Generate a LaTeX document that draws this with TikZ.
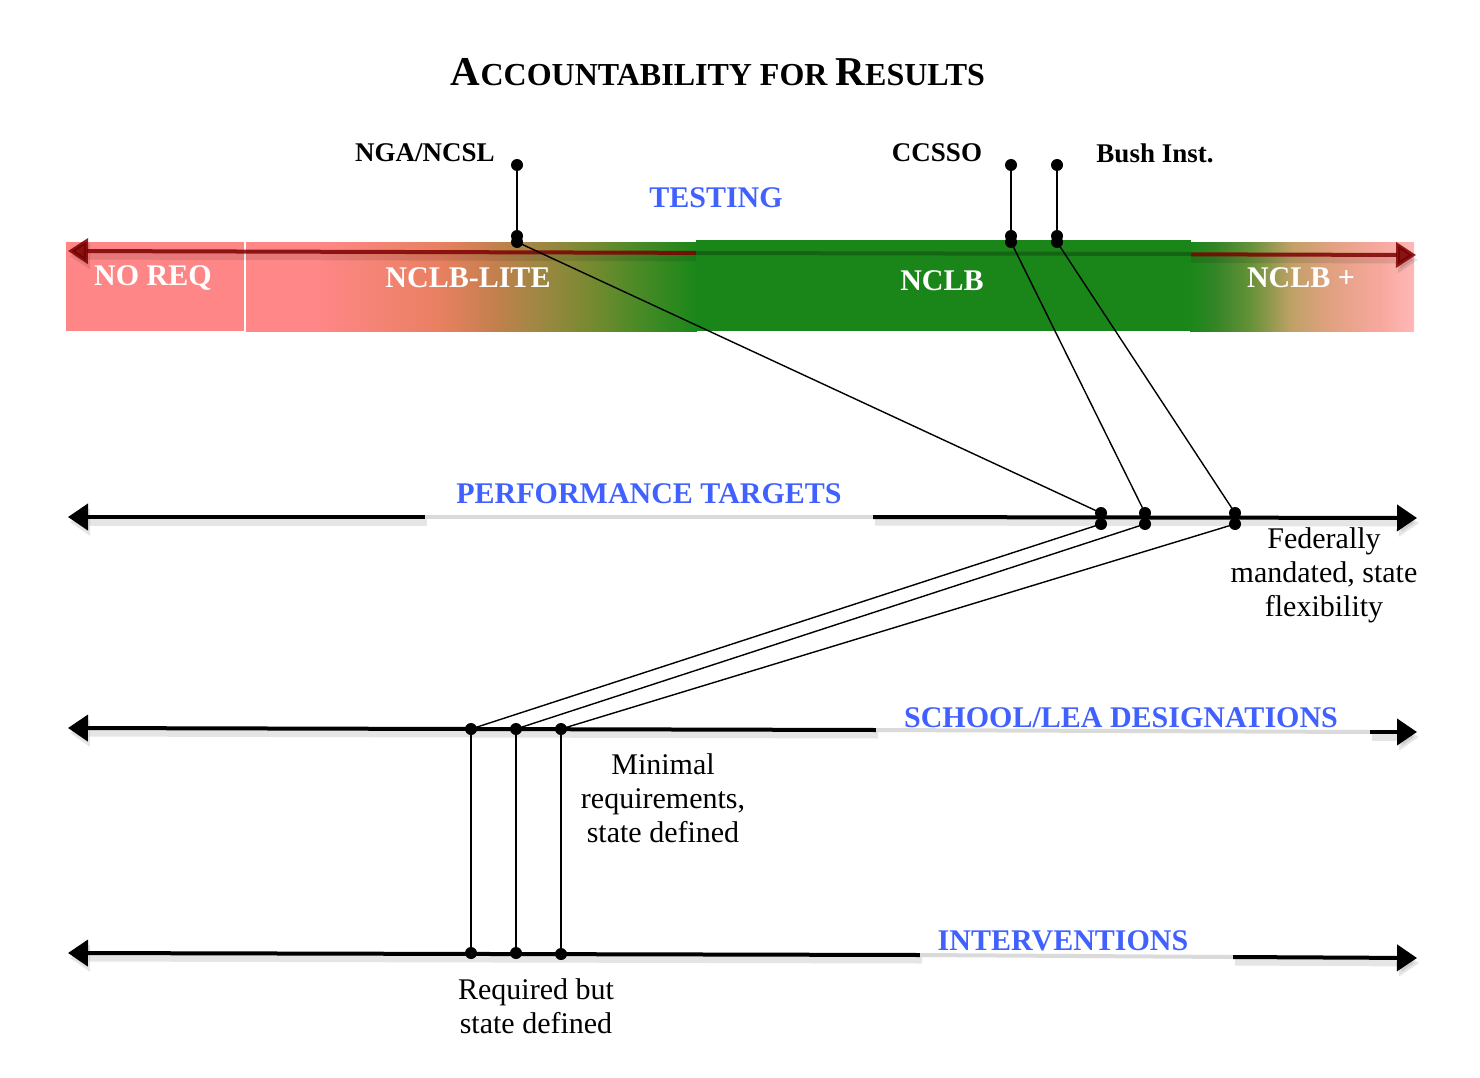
\documentclass[tikz,border=0pt]{standalone}
\usepackage{fontspec}
\setmainfont{Liberation Serif}
\usetikzlibrary{arrows.meta}
\definecolor{pinkA}{RGB}{255,134,134}
\definecolor{grn}{RGB}{26,134,26}
\definecolor{dkred}{RGB}{122,0,0}
\definecolor{lblue}{RGB}{64,96,255}
\definecolor{lgrey}{RGB}{218,218,218}
\pgfdeclarehorizontalshading{liteshade}{100bp}{rgb(0bp)=(1,0.53,0.53); rgb(25bp)=(1,0.53,0.53); rgb(33bp)=(1,0.53,0.53); rgb(46.5bp)=(0.91,0.50,0.38); rgb(52bp)=(0.78,0.50,0.31); rgb(57.5bp)=(0.62,0.53,0.26); rgb(63bp)=(0.47,0.54,0.19); rgb(68.5bp)=(0.29,0.54,0.15); rgb(75bp)=(0.10,0.53,0.10); rgb(100bp)=(0.10,0.53,0.10)}
\pgfdeclarehorizontalshading{plusshade}{100bp}{rgb(0bp)=(0.10,0.53,0.10); rgb(25bp)=(0.10,0.53,0.10); rgb(30.5bp)=(0.20,0.52,0.15); rgb(38.5bp)=(0.40,0.57,0.22); rgb(47.5bp)=(0.75,0.63,0.40); rgb(56bp)=(0.88,0.63,0.50); rgb(67.5bp)=(0.97,0.66,0.62); rgb(75bp)=(1,0.72,0.72); rgb(100bp)=(1,0.72,0.72)}
\begin{document}
\begin{tikzpicture}[x=1pt,y=-1pt,
  dot/.style={circle,fill=black,inner sep=0pt,minimum size=12pt},
  axisline/.style={line width=4pt,black},
  tipboth/.style={{Triangle[length=20pt,width=25pt]}-{Triangle[length=20pt,width=25pt]}},
  tipleft/.style={{Triangle[length=20pt,width=26pt]}-},
  tipright/.style={-{Triangle[length=20pt,width=26pt]}},
  shadowed/.style={preaction={draw=black,opacity=0.10,line width=7pt,transform canvas={shift={(2pt,-5pt)}}}},
  conn/.style={line width=1.4pt,black},
  stem/.style={line width=2pt,black},
  bluelbl/.style={text=lblue,font=\bfseries\fontsize{30}{30}\selectfont,inner sep=0pt},
  barlbl/.style={text=white,font=\bfseries\fontsize{30}{30}\selectfont,inner sep=0pt},
  orglbl/.style={text=black,font=\bfseries\fontsize{27}{27}\selectfont,inner sep=0pt},
  note/.style={text=black,font=\fontsize{30}{34}\selectfont,align=center,inner sep=0pt}
]
\useasboundingbox (0,0) rectangle (1480,1078);

% title
\node[inner sep=0pt] (title) at (718,72) {\bfseries{\fontsize{41}{41}\selectfont A}{\fontsize{32}{32}\selectfont CCOUNTABILITY FOR }{\fontsize{41}{41}\selectfont R}{\fontsize{32}{32}\selectfont ESULTS}};

% bar
\fill[pinkA] (66,242) rectangle (244,331);
\shade[shading=liteshade] (246,242) rectangle (697,331);
\shade[shading=plusshade] (1190,242) rectangle (1414,331);
\draw[white,line width=2pt] (245,242) -- (245,331);

\coordinate (tL) at (68,251);
\coordinate (tR) at (1416,255);
\draw[dkred,line width=4pt,opacity=0.85,tipboth,shadowed] (tL) -- (tR);
\fill[grn] (696,240) rectangle (1191,331);
\draw[grn!75!black,line width=4pt] (696,253) -- (1191,254);

\node[barlbl] (noreq) at (153,278) {NO REQ};
\node[barlbl] (lite) at (468,278) {NCLB-LITE};
\node[barlbl] (nclb) at (942,281) {NCLB};
\node[barlbl] (plus) at (1301,278) {NCLB +};

\node[bluelbl] (testing) at (716,198) {TESTING};
\node[orglbl] (nga) at (425,153) {NGA/NCSL};
\node[orglbl] (ccsso) at (937,153) {CCSSO};
\node[orglbl] (bush) at (1155,153) {Bush Inst.};

% stems
\node[dot] (a1) at (517,165) {};
\node[dot] (a2) at (1011,165) {};
\node[dot] (a3) at (1057,165) {};
\node[dot] (b1) at (517,236) {};
\node[dot] (b2) at (1011,236) {};
\node[dot] (b3) at (1057,236) {};
\node[dot] (c1) at (517,242) {};
\node[dot] (c2) at (1011,242) {};
\node[dot] (c3) at (1057,242) {};
\draw[stem] (a1.center) -- (b1.center);
\draw[stem] (a2.center) -- (b2.center);
\draw[stem] (a3.center) -- (b3.center);

% performance targets line
\coordinate (pL) at (68,517);
\coordinate (pR) at (1417,518);
\coordinate (pg1) at (425,517);
\coordinate (pg2) at (873,517);
\draw[axisline,tipleft,shadowed] (pL) -- (pg1);
\draw[lgrey,line width=4pt] (pg1) -- (pg2);
\draw[axisline,tipright,shadowed] (pg2) -- (pR);
\node[bluelbl] (perf) at (649,494) {PERFORMANCE TARGETS};

\node[dot] (p1) at (1101,513) {};
\node[dot] (p2) at (1145,513) {};
\node[dot] (p3) at (1235,513) {};
\node[dot] (q1) at (1101,524) {};
\node[dot] (q2) at (1145,524) {};
\node[dot] (q3) at (1235,524) {};

\draw[conn] (c1.center) -- (p1.center);
\draw[conn] (c2.center) -- (p2.center);
\draw[conn] (c3.center) -- (p3.center);

% school line
\coordinate (sL) at (68,728);
\coordinate (sR) at (1417,732);
\coordinate (sg1) at (876,730);
\coordinate (sg2) at (1370,732);
\draw[axisline,tipleft,shadowed] (sL) -- (sg1);
\draw[lgrey,line width=4pt] (sg1) -- (sg2);
\draw[axisline,tipright,shadowed] (sg2) -- (sR);
\node[bluelbl] (school) at (1121,718) {SCHOOL/LEA DESIGNATIONS};

\node[dot] (s1) at (471,729) {};
\node[dot] (s2) at (516,729) {};
\node[dot] (s3) at (561,729) {};

\draw[conn] (q1.center) -- (s1.center);
\draw[conn] (q2.center) -- (s2.center);
\draw[conn] (q3.center) -- (s3.center);

% interventions line
\coordinate (iL) at (68,953);
\coordinate (iR) at (1417,958);
\coordinate (ig1) at (920,955);
\coordinate (ig2) at (1233,957);
\draw[axisline,tipleft,shadowed] (iL) -- (ig1);
\draw[lgrey,line width=4pt] (ig1) -- (ig2);
\draw[axisline,tipright,shadowed] (ig2) -- (iR);
\node[bluelbl] (interv) at (1063,941) {INTERVENTIONS};

\node[dot] (i1) at (471,953) {};
\node[dot] (i2) at (516,953) {};
\node[dot] (i3) at (561,954) {};

\draw[conn] (s1.center) -- (i1.center);
\draw[conn] (s2.center) -- (i2.center);
\draw[conn] (s3.center) -- (i3.center);

% notes
\node[note] (fed) at (1324,575) {Federally\\mandated, state\\flexibility};
\node[note] (mini) at (663,798) {Minimal\\requirements,\\state defined};
\node[note] (req) at (536,1006) {Required but\\state defined};
\end{tikzpicture}
\end{document}
